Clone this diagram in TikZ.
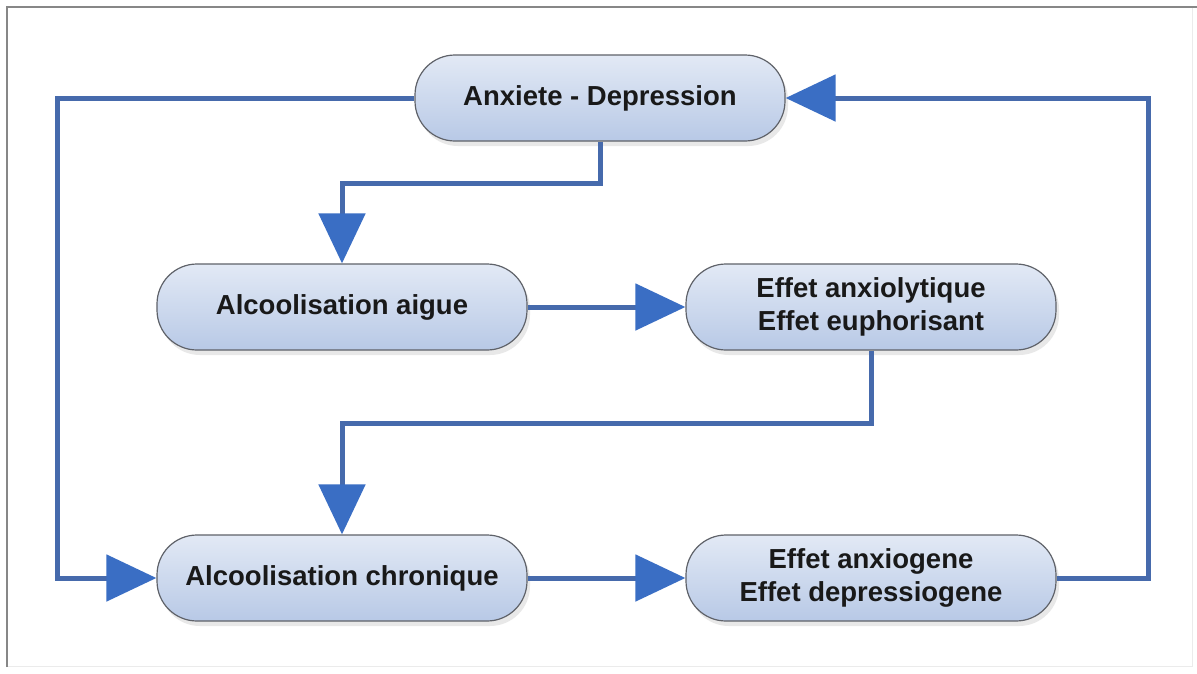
\documentclass[tikz,border=0pt]{standalone}
\usepackage{fontspec}
\setmainfont{Liberation Sans}
\usetikzlibrary{arrows.meta,shadows}
\definecolor{lineblue}{RGB}{70,106,172}
\definecolor{tipblue}{RGB}{58,110,196}
\definecolor{topfill}{RGB}{226,233,245}
\definecolor{botfill}{RGB}{184,201,230}
\definecolor{edgegray}{RGB}{95,98,105}
\definecolor{framegray}{RGB}{135,135,135}
\begin{document}
\begin{tikzpicture}[x=1pt,y=-1pt,
  boxnode/.style={rounded corners=40pt, draw=edgegray, line width=1.2pt,
    top color=topfill, bottom color=botfill,
    minimum width=370pt, minimum height=86pt, inner sep=0pt,
    align=center, font=\fontsize{27.5}{33}\selectfont\bfseries, text=black!90,
    drop shadow={shadow xshift=3pt, shadow yshift=-5pt, fill=black!25, opacity=0.35}},
  link/.style={draw=lineblue, line width=5pt,
    -{Triangle[length=50pt,width=46pt,color=tipblue]}}]
\useasboundingbox (0,0) rectangle (1197,673);
\fill[white] (0,0) rectangle (1197,673);
% frame
\draw[framegray, line width=2pt] (7,667) -- (7,7) -- (1197,7);
\draw[black!8, line width=1pt] (1192,8) -- (1192,666) -- (8,666);

\node[boxnode] (anx) at (600,98) {Anxiete - Depression};
\node[boxnode] (aig) at (342,307) {Alcoolisation aigue};
\node[boxnode] (lyt) at (871,307) {Effet anxiolytique\\Effet euphorisant};
\node[boxnode] (chr) at (342,578) {Alcoolisation chronique};
\node[boxnode] (gen) at (871,578) {Effet anxiogene\\Effet depressiogene};

\coordinate (pL) at (57,98);
\coordinate (p1) at (600,183);
\coordinate (p2) at (871,423);
\coordinate (pR) at (1148,578);

\draw[link] (anx.west) -- (pL) |- (chr.west);
\draw[link] (anx.south) -- (p1) -| (aig.north);
\draw[link] (aig.east) -- (lyt.west);
\draw[link] (lyt.south) -- (p2) -| (chr.north);
\draw[link] (chr.east) -- (gen.west);
\draw[link] (gen.east) -- (pR) |- (anx.east);
\end{tikzpicture}
\end{document}
